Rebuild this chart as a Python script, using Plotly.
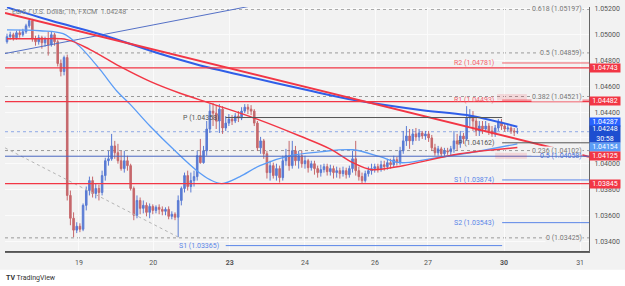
import plotly.graph_objects as go

# ---------------- data ----------------
open_ = [
    1.04946, 1.04985, 1.05000, 1.04977, 1.05015, 1.05000, 1.05023, 1.05069, 1.05108, 1.04969,
    1.04946, 1.04977, 1.04938, 1.04962, 1.04923, 1.05000, 1.04946, 1.04777, 1.04715, 1.04823,
    1.03754, 1.03577, 1.03485, 1.03515, 1.03492, 1.03677, 1.03792, 1.03869, 1.03769, 1.03808,
    1.03777, 1.03908, 1.04023, 1.04038, 1.04138, 1.04085, 1.04023, 1.03962, 1.04023, 1.03985,
    1.03808, 1.03600, 1.03715, 1.03654, 1.03677, 1.03623, 1.03669, 1.03638, 1.03662, 1.03646,
    1.03631, 1.03646, 1.03592, 1.03608, 1.03585, 1.03715, 1.03808, 1.03908, 1.03823, 1.03869,
    1.03900, 1.04062, 1.04008, 1.04100, 1.04269, 1.04408, 1.04392, 1.04331, 1.04423, 1.04277,
    1.04315, 1.04346, 1.04331, 1.04369, 1.04354, 1.04408, 1.04438, 1.04423, 1.04408, 1.04315,
    1.04123, 1.04177, 1.04077, 1.03931, 1.03985, 1.03908, 1.03962, 1.03892, 1.04023, 1.04062,
    1.03985, 1.04100, 1.04023, 1.04062, 1.04000, 1.04023, 1.03969, 1.04000, 1.03962, 1.03931,
    1.03954, 1.03977, 1.03938, 1.03962, 1.03931, 1.03946, 1.03923, 1.03946, 1.03915, 1.03962,
    1.04038, 1.03946, 1.03900, 1.03869, 1.03923, 1.03946, 1.03962, 1.03977, 1.03954, 1.03992,
    1.03977, 1.04008, 1.03992, 1.04031, 1.04008, 1.04100, 1.04177, 1.04215, 1.04177, 1.04231,
    1.04208, 1.04238, 1.04215, 1.04231, 1.04200, 1.04123, 1.04085, 1.04115, 1.04077, 1.04100,
    1.04092, 1.04115, 1.04177, 1.04154, 1.04215, 1.04192, 1.04354, 1.04369, 1.04331, 1.04254,
    1.04292, 1.04269, 1.04292, 1.04254, 1.04231, 1.04277, 1.04323, 1.04292, 1.04269, 1.04277,
    1.04254, 1.04246,
]
high = [
    1.05008, 1.05023, 1.05015, 1.05031, 1.05038, 1.05046, 1.05085, 1.05123, 1.05123, 1.04992,
    1.05000, 1.04992, 1.04985, 1.05023, 1.05023, 1.05015, 1.04962, 1.04808, 1.04838, 1.04846,
    1.03792, 1.03623, 1.03546, 1.03538, 1.03692, 1.03823, 1.03900, 1.03900, 1.03846, 1.03838,
    1.03946, 1.04046, 1.04100, 1.04231, 1.04177, 1.04154, 1.04100, 1.04100, 1.04062, 1.04000,
    1.03823, 1.03754, 1.03738, 1.03715, 1.03700, 1.03692, 1.03685, 1.03677, 1.03685, 1.03669,
    1.03662, 1.03669, 1.03631, 1.03623, 1.03754, 1.03823, 1.03931, 1.03946, 1.03931, 1.03946,
    1.04100, 1.04192, 1.04138, 1.04331, 1.04462, 1.04469, 1.04454, 1.04462, 1.04446, 1.04369,
    1.04385, 1.04377, 1.04392, 1.04408, 1.04438, 1.04462, 1.04462, 1.04454, 1.04423, 1.04331,
    1.04208, 1.04192, 1.04100, 1.04023, 1.04008, 1.04000, 1.03985, 1.04062, 1.04115, 1.04177,
    1.04177, 1.04138, 1.04100, 1.04100, 1.04062, 1.04038, 1.04023, 1.04023, 1.03985, 1.03992,
    1.04000, 1.04000, 1.03992, 1.03985, 1.03977, 1.03969, 1.03977, 1.03969, 1.03985, 1.04100,
    1.04177, 1.03977, 1.03931, 1.03946, 1.03977, 1.04000, 1.04000, 1.04000, 1.04023, 1.04023,
    1.04038, 1.04038, 1.04062, 1.04054, 1.04131, 1.04254, 1.04292, 1.04269, 1.04269, 1.04277,
    1.04269, 1.04254, 1.04254, 1.04254, 1.04223, 1.04154, 1.04138, 1.04131, 1.04123, 1.04123,
    1.04138, 1.04254, 1.04231, 1.04254, 1.04238, 1.04446, 1.04423, 1.04408, 1.04369, 1.04331,
    1.04331, 1.04331, 1.04315, 1.04292, 1.04300, 1.04346, 1.04346, 1.04315, 1.04308, 1.04292,
    1.04277, 1.04277,
]
low = [
    1.04931, 1.04962, 1.04954, 1.04962, 1.04977, 1.04985, 1.05008, 1.05054, 1.04946, 1.04915,
    1.04923, 1.04892, 1.04908, 1.04838, 1.04908, 1.04915, 1.04754, 1.04677, 1.04685, 1.03715,
    1.03523, 1.03431, 1.03462, 1.03469, 1.03477, 1.03638, 1.03754, 1.03738, 1.03731, 1.03715,
    1.03754, 1.03869, 1.03985, 1.04023, 1.04038, 1.04000, 1.03946, 1.03931, 1.03946, 1.03792,
    1.03562, 1.03577, 1.03608, 1.03615, 1.03592, 1.03577, 1.03608, 1.03615, 1.03608, 1.03600,
    1.03600, 1.03569, 1.03569, 1.03562, 1.03431, 1.03677, 1.03777, 1.03792, 1.03777, 1.03823,
    1.03869, 1.04000, 1.04000, 1.04062, 1.04238, 1.04292, 1.04269, 1.04238, 1.04231, 1.04254,
    1.04292, 1.04300, 1.04315, 1.04323, 1.04338, 1.04392, 1.04385, 1.04377, 1.04292, 1.04100,
    1.04077, 1.04038, 1.03885, 1.03869, 1.03885, 1.03869, 1.03854, 1.03869, 1.03985, 1.03946,
    1.03962, 1.03985, 1.03962, 1.03969, 1.03962, 1.03931, 1.03946, 1.03915, 1.03892, 1.03900,
    1.03931, 1.03908, 1.03908, 1.03885, 1.03892, 1.03885, 1.03900, 1.03885, 1.03892, 1.03931,
    1.03908, 1.03869, 1.03846, 1.03854, 1.03900, 1.03915, 1.03931, 1.03931, 1.03938, 1.03946,
    1.03954, 1.03962, 1.03969, 1.03985, 1.03992, 1.04077, 1.04138, 1.04115, 1.04146, 1.04177,
    1.04177, 1.04192, 1.04185, 1.04169, 1.04100, 1.04062, 1.04062, 1.04046, 1.04054, 1.04069,
    1.04062, 1.04085, 1.04100, 1.04123, 1.04154, 1.04177, 1.04292, 1.04254, 1.04215, 1.04215,
    1.04231, 1.04246, 1.04223, 1.04208, 1.04208, 1.04254, 1.04262, 1.04246, 1.04246, 1.04231,
    1.04215, 1.04231,
]
close = [
    1.04985, 1.05000, 1.04977, 1.05015, 1.05000, 1.05023, 1.05069, 1.05108, 1.04969, 1.04946,
    1.04977, 1.04938, 1.04962, 1.04923, 1.05000, 1.04946, 1.04777, 1.04715, 1.04823, 1.03754,
    1.03577, 1.03485, 1.03515, 1.03492, 1.03677, 1.03792, 1.03869, 1.03769, 1.03808, 1.03777,
    1.03908, 1.04023, 1.04038, 1.04138, 1.04085, 1.04023, 1.03962, 1.04023, 1.03985, 1.03808,
    1.03600, 1.03715, 1.03654, 1.03677, 1.03623, 1.03669, 1.03638, 1.03662, 1.03646, 1.03631,
    1.03646, 1.03592, 1.03608, 1.03585, 1.03715, 1.03808, 1.03908, 1.03823, 1.03869, 1.03900,
    1.04062, 1.04008, 1.04100, 1.04269, 1.04408, 1.04392, 1.04331, 1.04423, 1.04277, 1.04315,
    1.04346, 1.04331, 1.04369, 1.04354, 1.04408, 1.04438, 1.04423, 1.04408, 1.04315, 1.04123,
    1.04177, 1.04077, 1.03931, 1.03985, 1.03908, 1.03962, 1.03892, 1.04023, 1.04062, 1.03985,
    1.04100, 1.04023, 1.04062, 1.04000, 1.04023, 1.03969, 1.04000, 1.03962, 1.03931, 1.03954,
    1.03977, 1.03938, 1.03962, 1.03931, 1.03946, 1.03923, 1.03946, 1.03915, 1.03962, 1.04038,
    1.03946, 1.03900, 1.03869, 1.03923, 1.03946, 1.03962, 1.03977, 1.03954, 1.03992, 1.03977,
    1.04008, 1.03992, 1.04031, 1.04008, 1.04100, 1.04177, 1.04215, 1.04177, 1.04231, 1.04208,
    1.04238, 1.04215, 1.04231, 1.04200, 1.04123, 1.04085, 1.04115, 1.04077, 1.04100, 1.04092,
    1.04115, 1.04177, 1.04154, 1.04215, 1.04192, 1.04354, 1.04369, 1.04331, 1.04254, 1.04292,
    1.04269, 1.04292, 1.04254, 1.04231, 1.04277, 1.04323, 1.04292, 1.04269, 1.04277, 1.04254,
    1.04246, 1.04248,
]
bar = list(range(len(close)))

# moving averages (read at knots)
ma_slow_x = [0, 14, 30, 48, 61, 73, 95, 110, 131, 145, 161]
ma_slow_y = [1.05212, 1.05108, 1.05000, 1.04854, 1.04762, 1.04692, 1.04569, 1.04492, 1.04415, 1.04377, 1.04287]
ma_mid_x = [0, 10.4, 18.9, 26.2, 35.6, 45.1, 54.6, 65, 78.9, 92.4, 101.9, 109.1, 115.1, 124.9, 142.9, 161]
ma_mid_y = [1.04969, 1.04969, 1.04962, 1.04885, 1.04754, 1.04638, 1.04546, 1.04462, 1.04346, 1.04215,
            1.04115, 1.04008, 1.03954, 1.03985, 1.04077, 1.04125]
ma_fast_x = [0, 10.4, 17.7, 23, 29.3, 34.7, 38.8, 45.1, 53, 59.9, 64, 67.8, 73.5, 79.8, 89.3, 98.7,
             109.1, 117.7, 124, 133.4, 146, 161]
ma_fast_y = [1.05038, 1.05031, 1.05008, 1.04908, 1.04731, 1.04562, 1.04462, 1.04292, 1.04100, 1.03946,
             1.03877, 1.03846, 1.03900, 1.03985, 1.04062, 1.04092, 1.04108, 1.04054, 1.04008, 1.04038,
             1.04085, 1.04154]

# drawn trend lines
red_trend_x = [-0.63, 183.6]
red_trend_y = [1.05169, 1.04054]
blue_trend_x = [-0.63, 92.4]
blue_trend_y = [1.04854, 1.05296]
gray_trend_x = [-0.63, 54]
gray_trend_y = [1.04123, 1.03431]

# horizontal levels
red_levels = [1.04743, 1.04482, 1.03845]
fib_a_levels = [1.05197, 1.04859, 1.04521, 1.04102, 1.03425]
fib_a_labels = ["0.618 (1.05197)", "0.5 (1.04859)", "0.382 (1.04521)", "0.236 (1.04102)", "0 (1.03425)"]
fib_b_levels = [1.04058, 1.03314]
fib_b_labels = ["0.5 (1.04058)", "0 (1.03314)"]
last_price = 1.04248

piv_now_names = ["R2", "R1", "P", "S1", "S2"]
piv_now_vals = [1.04781, 1.04493, 1.04162, 1.03874, 1.03543]
piv_prev_names = ["P", "S1"]
piv_prev_vals = [1.04358, 1.03365]

day_ticks = [22.7, 46.1, 70.3, 94.0, 116.1, 132.8, 156.8, 180.8]
day_labels = ["19", "20", "<b>23</b>", "24", "26", "27", "<b>30</b>", "31"]
price_ticks = [1.034, 1.036, 1.038, 1.040, 1.042, 1.044, 1.046, 1.048, 1.050, 1.052]

# axis badges: text, colour, and (stacked) pixel row where the badge sits
badge_text = ["1.04743", "1.04482", "1.04287", "1.04154", "1.04125", "1.03845"]
badge_color = ["#f23645", "#f23645", "#2962ff", "#5b9cf6", "#f23645", "#f23645"]
badge_row = [66, 100, 120.5, 146.5, 155.5, 183]

# ---------------- figure ----------------
X0, X1 = -0.63, 183.6
Y0, Y1 = 1.033154, 1.05215
BG = "#f2f2f2"
UP = "#4a6fd1"
DN = "#c25a5e"
FONT = "Roboto"

fig = go.Figure()

fig.add_trace(go.Scatter(x=gray_trend_x, y=gray_trend_y, mode="lines",
                         line=dict(color="#b5b5b5", width=1, dash="dot"), hoverinfo="skip"))
fig.add_trace(go.Scatter(x=blue_trend_x, y=blue_trend_y, mode="lines",
                         line=dict(color="#5470c6", width=1), hoverinfo="skip"))

fig.add_trace(go.Candlestick(
    x=bar, open=open_, high=high, low=low, close=close,
    increasing=dict(line=dict(color=UP, width=1), fillcolor=UP),
    decreasing=dict(line=dict(color=DN, width=1), fillcolor=DN),
    whiskerwidth=0, opacity=0.9, hoverinfo="skip"))

fig.add_trace(go.Scatter(x=ma_fast_x, y=ma_fast_y, mode="lines", line_shape="spline",
                         line=dict(color="#5b9cf6", width=1.3), hoverinfo="skip"))
fig.add_trace(go.Scatter(x=ma_mid_x, y=ma_mid_y, mode="lines", line_shape="spline",
                         line=dict(color="#f23645", width=1.5), hoverinfo="skip"))
fig.add_trace(go.Scatter(x=ma_slow_x, y=ma_slow_y, mode="lines", line_shape="spline",
                         line=dict(color="#2f5ee8", width=2), hoverinfo="skip"))
fig.add_trace(go.Scatter(x=red_trend_x, y=red_trend_y, mode="lines",
                         line=dict(color="#f23645", width=2), hoverinfo="skip"))

shapes = []
# bottom white strip
shapes.append(dict(type="rect", xref="paper", yref="paper", x0=-0.02, x1=1.08,
                   y0=-0.2, y1=-(270 - 252) / 247, fillcolor="white", line_width=0, layer="below"))
for v in red_levels:
    shapes.append(dict(type="line", xref="x", yref="y", x0=X0, x1=X1, y0=v, y1=v,
                       line=dict(color="#f23645", width=1.3), layer="above"))
for v in fib_a_levels:
    shapes.append(dict(type="line", xref="x", yref="y", x0=X0, x1=X1, y0=v, y1=v,
                       line=dict(color="#9a9a9a", width=1, dash="dot"), layer="below"))
shapes.append(dict(type="line", xref="x", yref="y", x0=X0, x1=X1, y0=fib_b_levels[0], y1=fib_b_levels[0],
                   line=dict(color="#4a67c0", width=1), layer="above"))
shapes.append(dict(type="line", xref="x", yref="y", x0=X0, x1=X1, y0=fib_b_levels[1], y1=fib_b_levels[1],
                   line=dict(color="#555555", width=2.5), layer="above"))
shapes.append(dict(type="line", xref="x", yref="y", x0=X0, x1=X1, y0=last_price, y1=last_price,
                   line=dict(color="#8fa8e6", width=1, dash="dot"), layer="below"))
piv_col = {"R2": "#f2606b", "R1": "#f2606b", "P": "#555555", "S1": "#5b86e8", "S2": "#5b86e8"}
for n, v in zip(piv_now_names, piv_now_vals):
    shapes.append(dict(type="line", xref="x", yref="y", x0=156.2, x1=X1, y0=v, y1=v,
                       line=dict(color=piv_col[n], width=1), layer="above"))
for n, v in zip(piv_prev_names, piv_prev_vals):
    shapes.append(dict(type="line", xref="x", yref="y", x0=69.0, x1=156.2, y0=v, y1=v,
                       line=dict(color=piv_col[n], width=1), layer="above"))
# pink zones
shapes.append(dict(type="rect", xref="x", yref="y", x0=154.6, x1=164.0, y0=1.04490, y1=1.04540,
                   fillcolor="rgba(242,54,69,0.15)", line_width=0, layer="above"))
shapes.append(dict(type="rect", xref="x", yref="y", x0=154.0, x1=164.0, y0=1.04038, y1=1.04085,
                   fillcolor="rgba(242,54,69,0.15)", line_width=0, layer="above"))

ann = []
for v, t in zip(fib_a_levels, fib_a_labels):
    ann.append(dict(x=181.7, y=v, xref="x", yref="y", text=t, showarrow=False, xanchor="right",
                    yanchor="middle", font=dict(size=7, color="#777777", family=FONT), bgcolor=BG, borderpad=0))
ann.append(dict(x=181.7, y=fib_b_levels[0], xref="x", yref="y", text=fib_b_labels[0], showarrow=False,
                xanchor="right", yanchor="middle", font=dict(size=7, color="#4a6fd6", family=FONT), borderpad=0))
ann.append(dict(x=181.7, y=fib_b_levels[1], xref="x", yref="y", text=fib_b_labels[1], showarrow=False,
                xanchor="right", yanchor="bottom", font=dict(size=7, color="#444444", family=FONT), borderpad=0))
for n, v in zip(piv_now_names, piv_now_vals):
    ann.append(dict(x=154.4, y=v, xref="x", yref="y", text=f"{n} ({v:.5f})", showarrow=False,
                    xanchor="right", yanchor="middle", font=dict(size=7, color=piv_col[n], family=FONT)))
for n, v in zip(piv_prev_names, piv_prev_vals):
    ann.append(dict(x=67.6, y=v, xref="x", yref="y", text=f"{n} ({v:.5f})", showarrow=False,
                    xanchor="right", yanchor="middle", font=dict(size=7, color=piv_col[n], family=FONT)))


def ypaper(px):
    return (252 - px) / 247


for t, c, r in zip(badge_text, badge_color, badge_row):
    ann.append(dict(x=1.0, y=ypaper(r), xref="paper", yref="paper", text=t, showarrow=False, xanchor="left",
                    yanchor="middle", font=dict(size=7, color="white", family=FONT), bgcolor=c,
                    width=30, height=8, borderpad=0))
ann.append(dict(x=1.0, y=ypaper(133), xref="paper", yref="paper", text="1.04248<br>30:58", showarrow=False,
                xanchor="left", yanchor="middle", align="center",
                font=dict(size=7, color="white", family=FONT), bgcolor="#1d4ed0", width=30, height=16, borderpad=0))
ann.append(dict(x=0.009, y=ypaper(10), xref="paper", yref="paper",
                text="Euro / U.S. Dollar, 1h, FXCM  1.04248", showarrow=False, xanchor="left", yanchor="middle",
                font=dict(size=7, color="#808080", family=FONT)))
ann.append(dict(x=-0.002, y=ypaper(278), xref="paper", yref="paper",
                text="<b>TV</b> TradingView", showarrow=False, xanchor="left", yanchor="middle",
                font=dict(size=7, color="#333333", family=FONT)))

fig.update_layout(
    width=625, height=286, margin=dict(l=5, r=36, t=5, b=34),
    paper_bgcolor=BG, plot_bgcolor=BG, showlegend=False,
    shapes=shapes, annotations=ann,
    font=dict(family=FONT, size=7, color="#555555"),
    xaxis=dict(range=[X0, X1], tickvals=day_ticks, ticktext=day_labels, showgrid=True,
               gridcolor="#fbfbfb", gridwidth=1, zeroline=False, showline=True, linecolor="#666666",
               ticks="outside", ticklen=4, tickcolor="rgba(0,0,0,0)",
               tickfont=dict(size=7, color="#555555", family=FONT), rangeslider=dict(visible=False),
               fixedrange=True),
    yaxis=dict(range=[Y0, Y1], side="right", tickvals=price_ticks,
               ticktext=[("" if abs(t - 1.042) < 1e-9 else f"{t:.5f}") for t in price_ticks],
               showgrid=True, gridcolor="#fbfbfb", zeroline=False, showline=True, linecolor="#666666",
               ticks="outside", ticklen=3, tickcolor="rgba(0,0,0,0)",
               tickfont=dict(size=7, color="#555555", family=FONT), fixedrange=True),
)

fig.write_html("out.html")
